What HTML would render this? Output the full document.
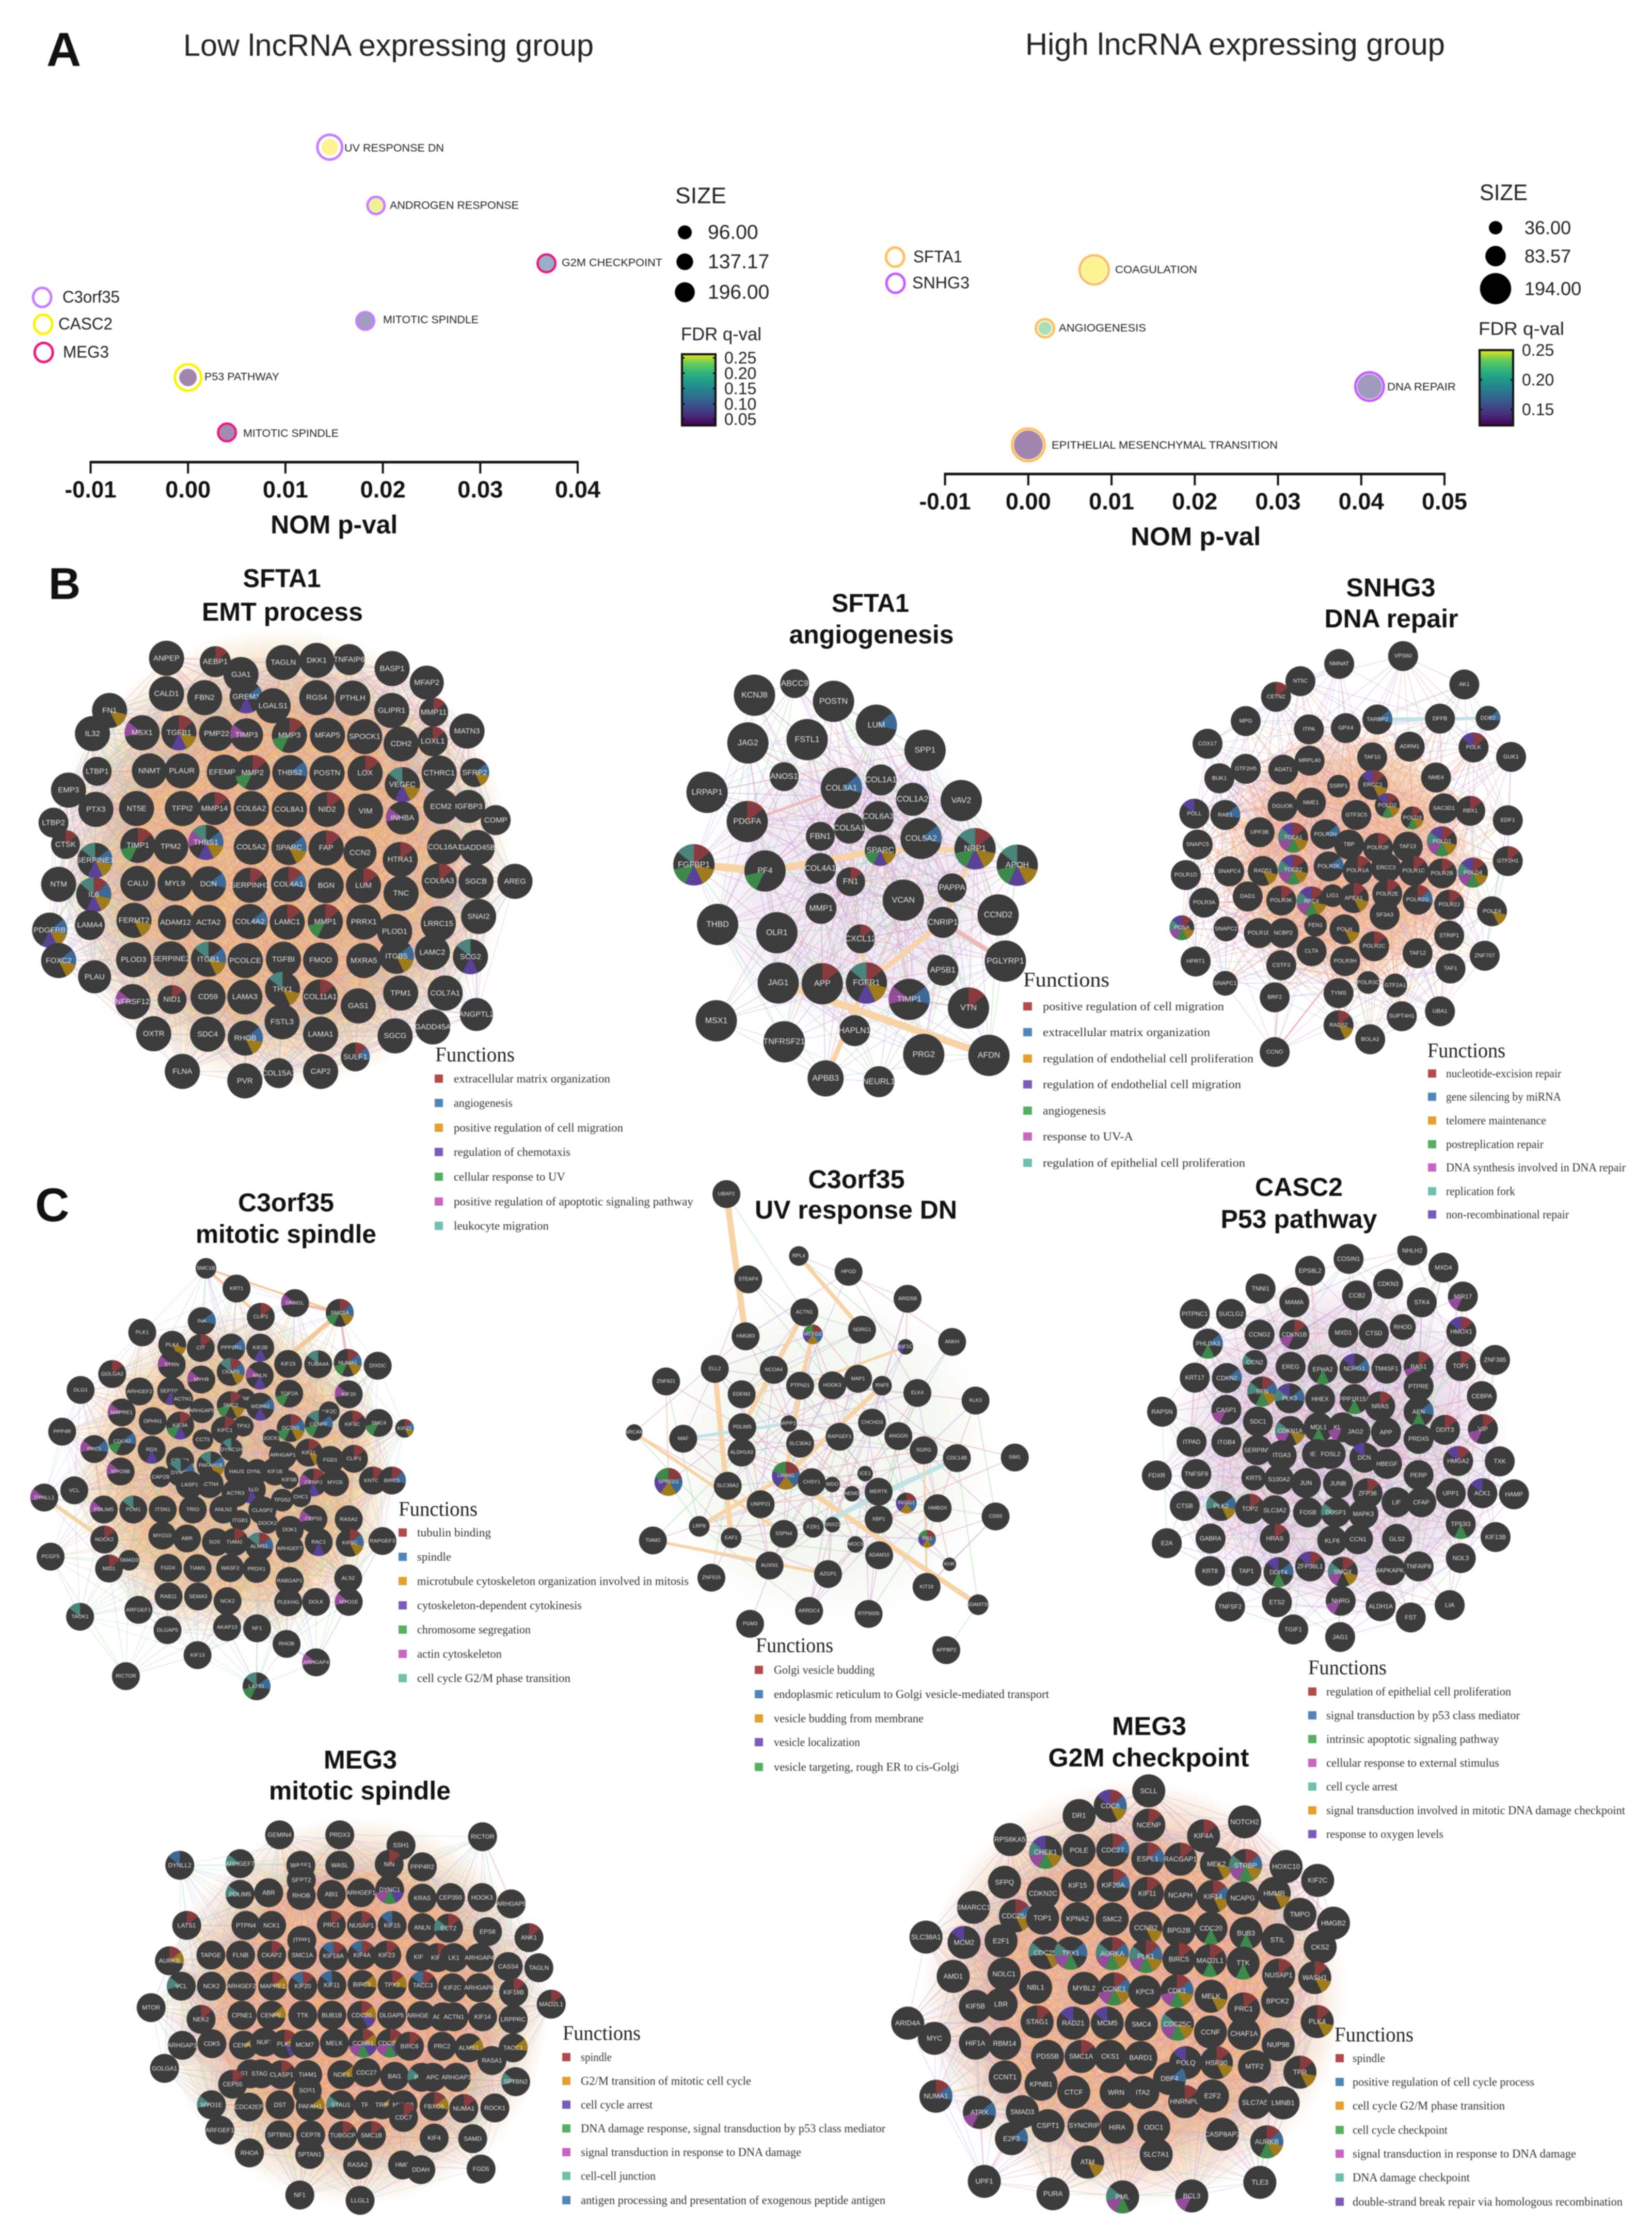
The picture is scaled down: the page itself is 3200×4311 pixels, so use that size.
<!DOCTYPE html>
<html lang="en"><head><meta charset="utf-8"><title>lncRNA GSEA and GeneMANIA networks</title>
<style>
html,body{margin:0;padding:0;background:#fff}
svg{display:block;filter:blur(1px)}
text{dominant-baseline:central}
.s{font-family:"Liberation Sans",sans-serif;fill:#222}
.b{font-family:"Liberation Sans",sans-serif;font-weight:700;fill:#111}
.f{font-family:"Liberation Serif",serif;fill:#333;font-size:23px}
.h{font-family:"Liberation Serif",serif;fill:#222;font-size:40px}
</style></head><body>
<svg id="fig" xmlns="http://www.w3.org/2000/svg" width="3200" height="4311" viewBox="0 0 3200 4311">
<defs id="figDefs">
<linearGradient id="viridis" x1="0" y1="1" x2="0" y2="0"><stop offset="0" stop-color="#440154"/><stop offset=".13" stop-color="#482878"/><stop offset=".25" stop-color="#3e4989"/><stop offset=".38" stop-color="#31688e"/><stop offset=".5" stop-color="#26828e"/><stop offset=".63" stop-color="#1f9e89"/><stop offset=".75" stop-color="#35b779"/><stop offset=".88" stop-color="#6ece58"/><stop offset="1" stop-color="#e8e419"/></linearGradient>
<pattern id="hatch" width="5" height="5" patternUnits="userSpaceOnUse" patternTransform="rotate(45)"><rect width="5" height="5" fill="#000" fill-opacity="0"/><rect width="1.4" height="5" fill="#000" fill-opacity=".18"/></pattern>
</defs>
<rect width="3200" height="4311" fill="#fff"/>

<text class="b" x="90" y="96" font-size="93">A</text>
<text class="b" x="94" y="1131" font-size="86">B</text>
<text class="b" x="68" y="2334" font-size="92">C</text>

<text class="s" x="355" y="88" font-size="59" textLength="795" lengthAdjust="spacingAndGlyphs">Low lncRNA expressing group</text>
<text class="s" x="1986" y="86" font-size="59" textLength="813" lengthAdjust="spacingAndGlyphs">High lncRNA expressing group</text>

<g id="edgesLayer"></g>
<g id="nodesLayer"></g>
<g id="chartLayer"></g>

<g>
<text class="b" x="546" y="1120" font-size="50" text-anchor="middle" textLength="151" lengthAdjust="spacingAndGlyphs">SFTA1</text>
<text class="b" x="547" y="1185" font-size="50" text-anchor="middle" textLength="312" lengthAdjust="spacingAndGlyphs">EMT process</text>
<text class="b" x="1686" y="1168" font-size="50" text-anchor="middle" textLength="150" lengthAdjust="spacingAndGlyphs">SFTA1</text>
<text class="b" x="1688" y="1229" font-size="50" text-anchor="middle" textLength="319" lengthAdjust="spacingAndGlyphs">angiogenesis</text>
<text class="b" x="2694" y="1138" font-size="50" text-anchor="middle" textLength="173" lengthAdjust="spacingAndGlyphs">SNHG3</text>
<text class="b" x="2695" y="1198" font-size="50" text-anchor="middle" textLength="259" lengthAdjust="spacingAndGlyphs">DNA repair</text>
<text class="b" x="554" y="2329" font-size="50" text-anchor="middle" textLength="186" lengthAdjust="spacingAndGlyphs">C3orf35</text>
<text class="b" x="554" y="2390" font-size="50" text-anchor="middle" textLength="350" lengthAdjust="spacingAndGlyphs">mitotic spindle</text>
<text class="b" x="1659" y="2284" font-size="50" text-anchor="middle" textLength="187" lengthAdjust="spacingAndGlyphs">C3orf35</text>
<text class="b" x="1658" y="2343" font-size="50" text-anchor="middle" textLength="392" lengthAdjust="spacingAndGlyphs">UV response DN</text>
<text class="b" x="2516" y="2299" font-size="50" text-anchor="middle" textLength="170" lengthAdjust="spacingAndGlyphs">CASC2</text>
<text class="b" x="2516" y="2361" font-size="50" text-anchor="middle" textLength="303" lengthAdjust="spacingAndGlyphs">P53 pathway</text>
<text class="b" x="698" y="3408" font-size="50" text-anchor="middle" textLength="142" lengthAdjust="spacingAndGlyphs">MEG3</text>
<text class="b" x="697" y="3468" font-size="50" text-anchor="middle" textLength="352" lengthAdjust="spacingAndGlyphs">mitotic spindle</text>
<text class="b" x="2226" y="3343" font-size="50" text-anchor="middle" textLength="144" lengthAdjust="spacingAndGlyphs">MEG3</text>
<text class="b" x="2225" y="3404" font-size="50" text-anchor="middle" textLength="389" lengthAdjust="spacingAndGlyphs">G2M checkpoint</text>
</g>

<g>
<text class="h" x="843" y="2042" textLength="154" lengthAdjust="spacingAndGlyphs">Functions</text>
<rect x="842" y="2081" width="16" height="16" fill="#b24a4a"/><text class="f" x="879" y="2089" textLength="303" lengthAdjust="spacingAndGlyphs">extracellular matrix organization</text>
<rect x="842" y="2128" width="16" height="16" fill="#4f86b8"/><text class="f" x="879" y="2136" textLength="114" lengthAdjust="spacingAndGlyphs">angiogenesis</text>
<rect x="842" y="2176" width="16" height="16" fill="#e3a02f"/><text class="f" x="879" y="2184" textLength="328" lengthAdjust="spacingAndGlyphs">positive regulation of cell migration</text>
<rect x="842" y="2223" width="16" height="16" fill="#7a5bb5"/><text class="f" x="879" y="2231" textLength="226" lengthAdjust="spacingAndGlyphs">regulation of chemotaxis</text>
<rect x="842" y="2271" width="16" height="16" fill="#56b060"/><text class="f" x="879" y="2279" textLength="216" lengthAdjust="spacingAndGlyphs">cellular response to UV</text>
<rect x="842" y="2319" width="16" height="16" fill="#c765c0"/><text class="f" x="879" y="2327" textLength="464" lengthAdjust="spacingAndGlyphs">positive regulation of apoptotic signaling pathway</text>
<rect x="842" y="2366" width="16" height="16" fill="#6fbfae"/><text class="f" x="879" y="2374" textLength="184" lengthAdjust="spacingAndGlyphs">leukocyte migration</text>
</g>
<g>
<text class="h" x="1982" y="1897" textLength="167" lengthAdjust="spacingAndGlyphs">Functions</text>
<rect x="1982" y="1941" width="17" height="16" fill="#b24a4a"/><text class="f" x="2020" y="1949" textLength="351" lengthAdjust="spacingAndGlyphs">positive regulation of cell migration</text>
<rect x="1982" y="1991" width="17" height="16" fill="#4f86b8"/><text class="f" x="2020" y="1999" textLength="324" lengthAdjust="spacingAndGlyphs">extracellular matrix organization</text>
<rect x="1982" y="2042" width="17" height="16" fill="#e3a02f"/><text class="f" x="2020" y="2050" textLength="408" lengthAdjust="spacingAndGlyphs">regulation of endothelial cell proliferation</text>
<rect x="1982" y="2092" width="17" height="16" fill="#7a5bb5"/><text class="f" x="2020" y="2100" textLength="384" lengthAdjust="spacingAndGlyphs">regulation of endothelial cell migration</text>
<rect x="1982" y="2143" width="17" height="16" fill="#56b060"/><text class="f" x="2020" y="2151" textLength="122" lengthAdjust="spacingAndGlyphs">angiogenesis</text>
<rect x="1982" y="2193" width="17" height="16" fill="#c765c0"/><text class="f" x="2020" y="2201" textLength="175" lengthAdjust="spacingAndGlyphs">response to UV-A</text>
<rect x="1982" y="2244" width="17" height="16" fill="#6fbfae"/><text class="f" x="2020" y="2252" textLength="392" lengthAdjust="spacingAndGlyphs">regulation of epithelial cell proliferation</text>
</g>
<g>
<text class="h" x="2765" y="2034" textLength="151" lengthAdjust="spacingAndGlyphs">Functions</text>
<rect x="2766" y="2071" width="16" height="16" fill="#b24a4a"/><text class="f" x="2801" y="2079" textLength="223" lengthAdjust="spacingAndGlyphs">nucleotide-excision repair</text>
<rect x="2766" y="2116" width="16" height="16" fill="#4f86b8"/><text class="f" x="2801" y="2124" textLength="223" lengthAdjust="spacingAndGlyphs">gene silencing by miRNA</text>
<rect x="2766" y="2162" width="16" height="16" fill="#e3a02f"/><text class="f" x="2801" y="2170" textLength="194" lengthAdjust="spacingAndGlyphs">telomere maintenance</text>
<rect x="2766" y="2208" width="16" height="16" fill="#56b060"/><text class="f" x="2801" y="2216" textLength="189" lengthAdjust="spacingAndGlyphs">postreplication repair</text>
<rect x="2766" y="2253" width="16" height="16" fill="#c765c0"/><text class="f" x="2801" y="2261" textLength="348" lengthAdjust="spacingAndGlyphs">DNA synthesis involved in DNA repair</text>
<rect x="2766" y="2299" width="16" height="16" fill="#6fbfae"/><text class="f" x="2801" y="2307" textLength="134" lengthAdjust="spacingAndGlyphs">replication fork</text>
<rect x="2766" y="2344" width="16" height="16" fill="#7a5bb5"/><text class="f" x="2801" y="2352" textLength="238" lengthAdjust="spacingAndGlyphs">non-recombinational repair</text>
</g>
<g>
<text class="h" x="772" y="2922" textLength="153" lengthAdjust="spacingAndGlyphs">Functions</text>
<rect x="772" y="2960" width="16" height="16" fill="#b24a4a"/><text class="f" x="808" y="2968" textLength="143" lengthAdjust="spacingAndGlyphs">tubulin binding</text>
<rect x="772" y="3007" width="16" height="16" fill="#4f86b8"/><text class="f" x="808" y="3015" textLength="66" lengthAdjust="spacingAndGlyphs">spindle</text>
<rect x="772" y="3054" width="16" height="16" fill="#e3a02f"/><text class="f" x="808" y="3062" textLength="526" lengthAdjust="spacingAndGlyphs">microtubule cytoskeleton organization involved in mitosis</text>
<rect x="772" y="3101" width="16" height="16" fill="#7a5bb5"/><text class="f" x="808" y="3109" textLength="319" lengthAdjust="spacingAndGlyphs">cytoskeleton-dependent cytokinesis</text>
<rect x="772" y="3148" width="16" height="16" fill="#56b060"/><text class="f" x="808" y="3156" textLength="220" lengthAdjust="spacingAndGlyphs">chromosome segregation</text>
<rect x="772" y="3195" width="16" height="16" fill="#c765c0"/><text class="f" x="808" y="3203" textLength="164" lengthAdjust="spacingAndGlyphs">actin cytoskeleton</text>
<rect x="772" y="3242" width="16" height="16" fill="#6fbfae"/><text class="f" x="808" y="3250" textLength="297" lengthAdjust="spacingAndGlyphs">cell cycle G2/M phase transition</text>
</g>
<g>
<text class="h" x="1464" y="3186" textLength="150" lengthAdjust="spacingAndGlyphs">Functions</text>
<rect x="1462" y="3226" width="16" height="16" fill="#b24a4a"/><text class="f" x="1499" y="3234" textLength="195" lengthAdjust="spacingAndGlyphs">Golgi vesicle budding</text>
<rect x="1462" y="3273" width="16" height="16" fill="#4f86b8"/><text class="f" x="1499" y="3281" textLength="533" lengthAdjust="spacingAndGlyphs">endoplasmic reticulum to Golgi vesicle-mediated transport</text>
<rect x="1462" y="3320" width="16" height="16" fill="#e3a02f"/><text class="f" x="1499" y="3328" textLength="290" lengthAdjust="spacingAndGlyphs">vesicle budding from membrane</text>
<rect x="1462" y="3366" width="16" height="16" fill="#7a5bb5"/><text class="f" x="1499" y="3374" textLength="167" lengthAdjust="spacingAndGlyphs">vesicle localization</text>
<rect x="1462" y="3414" width="16" height="16" fill="#56b060"/><text class="f" x="1499" y="3422" textLength="359" lengthAdjust="spacingAndGlyphs">vesicle targeting, rough ER to cis-Golgi</text>
</g>
<g>
<text class="h" x="2534" y="3229" textLength="152" lengthAdjust="spacingAndGlyphs">Functions</text>
<rect x="2534" y="3268" width="16" height="16" fill="#b24a4a"/><text class="f" x="2569" y="3276" textLength="358" lengthAdjust="spacingAndGlyphs">regulation of epithelial cell proliferation</text>
<rect x="2534" y="3314" width="16" height="16" fill="#4f86b8"/><text class="f" x="2569" y="3322" textLength="375" lengthAdjust="spacingAndGlyphs">signal transduction by p53 class mediator</text>
<rect x="2534" y="3360" width="16" height="16" fill="#56b060"/><text class="f" x="2569" y="3368" textLength="335" lengthAdjust="spacingAndGlyphs">intrinsic apoptotic signaling pathway</text>
<rect x="2534" y="3406" width="16" height="16" fill="#c765c0"/><text class="f" x="2569" y="3414" textLength="335" lengthAdjust="spacingAndGlyphs">cellular response to external stimulus</text>
<rect x="2534" y="3452" width="16" height="16" fill="#6fbfae"/><text class="f" x="2569" y="3460" textLength="138" lengthAdjust="spacingAndGlyphs">cell cycle arrest</text>
<rect x="2534" y="3498" width="16" height="16" fill="#e3a02f"/><text class="f" x="2569" y="3506" textLength="579" lengthAdjust="spacingAndGlyphs">signal transduction involved in mitotic DNA damage checkpoint</text>
<rect x="2534" y="3544" width="16" height="16" fill="#7a5bb5"/><text class="f" x="2569" y="3552" textLength="227" lengthAdjust="spacingAndGlyphs">response to oxygen levels</text>
</g>
<g>
<text class="h" x="1090" y="3937" textLength="151" lengthAdjust="spacingAndGlyphs">Functions</text>
<rect x="1089" y="3976" width="16" height="16" fill="#b24a4a"/><text class="f" x="1125" y="3984" textLength="60" lengthAdjust="spacingAndGlyphs">spindle</text>
<rect x="1089" y="4022" width="16" height="16" fill="#e3a02f"/><text class="f" x="1125" y="4030" textLength="330" lengthAdjust="spacingAndGlyphs">G2/M transition of mitotic cell cycle</text>
<rect x="1089" y="4068" width="16" height="16" fill="#7a5bb5"/><text class="f" x="1125" y="4076" textLength="139" lengthAdjust="spacingAndGlyphs">cell cycle arrest</text>
<rect x="1089" y="4114" width="16" height="16" fill="#56b060"/><text class="f" x="1125" y="4122" textLength="590" lengthAdjust="spacingAndGlyphs">DNA damage response, signal transduction by p53 class mediator</text>
<rect x="1089" y="4160" width="16" height="16" fill="#c765c0"/><text class="f" x="1125" y="4168" textLength="427" lengthAdjust="spacingAndGlyphs">signal transduction in response to DNA damage</text>
<rect x="1089" y="4206" width="16" height="16" fill="#6fbfae"/><text class="f" x="1125" y="4214" textLength="145" lengthAdjust="spacingAndGlyphs">cell-cell junction</text>
<rect x="1089" y="4253" width="16" height="16" fill="#4f86b8"/><text class="f" x="1125" y="4261" textLength="590" lengthAdjust="spacingAndGlyphs">antigen processing and presentation of exogenous peptide antigen</text>
</g>
<g>
<text class="h" x="2585" y="3940" textLength="153" lengthAdjust="spacingAndGlyphs">Functions</text>
<rect x="2587" y="3978" width="16" height="16" fill="#b24a4a"/><text class="f" x="2620" y="3986" textLength="63" lengthAdjust="spacingAndGlyphs">spindle</text>
<rect x="2587" y="4024" width="16" height="16" fill="#4f86b8"/><text class="f" x="2620" y="4032" textLength="352" lengthAdjust="spacingAndGlyphs">positive regulation of cell cycle process</text>
<rect x="2587" y="4070" width="16" height="16" fill="#e3a02f"/><text class="f" x="2620" y="4078" textLength="295" lengthAdjust="spacingAndGlyphs">cell cycle G2/M phase transition</text>
<rect x="2587" y="4117" width="16" height="16" fill="#56b060"/><text class="f" x="2620" y="4125" textLength="184" lengthAdjust="spacingAndGlyphs">cell cycle checkpoint</text>
<rect x="2587" y="4163" width="16" height="16" fill="#c765c0"/><text class="f" x="2620" y="4171" textLength="433" lengthAdjust="spacingAndGlyphs">signal transduction in response to DNA damage</text>
<rect x="2587" y="4209" width="16" height="16" fill="#6fbfae"/><text class="f" x="2620" y="4217" textLength="227" lengthAdjust="spacingAndGlyphs">DNA damage checkpoint</text>
<rect x="2587" y="4256" width="16" height="16" fill="#7a5bb5"/><text class="f" x="2620" y="4264" textLength="523" lengthAdjust="spacingAndGlyphs">double-strand break repair via homologous recombination</text>
</g>
</svg>
<script>
/* ---------- GSEA bubble chart data ---------- */
const lowSets = ["UV RESPONSE DN","ANDROGEN RESPONSE","G2M CHECKPOINT","MITOTIC SPINDLE","P53 PATHWAY","MITOTIC SPINDLE"];
const lowPval = [0.01455,0.0193,0.0368,0.0182,0,0.004];
const lowRank = [0,1.022,2.036,3.045,4.036,5];
const lowSize = [134,96,118,118,152,118];
const lowFdr = [0.25,0.245,0.12,0.09,0.056,0.065];
const lowGene = ["C3orf35","C3orf35","MEG3","C3orf35","CASC2","MEG3"];
const lowTicks = [-0.01,0,0.01,0.02,0.03,0.04];
const lowSizeLegend = [96,137.17,196];
const lowFdrTicks = [0.25,0.2,0.15,0.1,0.05];
const highSets = ["COAGULATION","ANGIOGENESIS","DNA REPAIR","EPITHELIAL MESENCHYMAL TRANSITION"];
const highPval = [0.00792,0.002,0.041,0];
const highRank = [0,1,2,3];
const highSize = [122,36,122,166];
const highFdr = [0.25,0.226,0.143,0.124];
const highGene = ["SFTA1","SFTA1","SNHG3","SFTA1"];
const highTicks = [-0.01,0,0.01,0.02,0.03,0.04,0.05];
const highSizeLegend = [36,83.57,194];
const highFdrTicks = [0.25,0.2,0.15];

/* ---------- network nodes: NAME x y slots radius (crop-layout units) ---------- */
const nodesEmt = "ANPEP 389 235,AEBP1 503 243 0 30,GJA1 563 273,TAGLN 662 245,DKK1 740 240,TNFAIP6 816 238 - 30,BASP1 916 259,MFAP2 997 292 - 33,CALD1 389 318,FBN2 478 327,GREM1 575 325 13 32,LGALS1 638 346,RGS4 740 327,PTHLH 824 328,GLIPR1 915 357,MMP11 1013 361 0 28,FN1 256 357 2,IL32 216 411,MSX1 332 409 5,TGFB1 418 409 023,PMP22 506 411,TIMP3 576 414 5 32,MMP3 676 415 04,MFAP5 765 415,SPOCK1 852 418,CDH2 937 435,LOXL1 1011 429 0 29,MATN3 1091 405,LTBP1 227 499 - 28,NNMT 349 498,PLAUR 425 498,EFEMP2 524 501,MMP2 590 502 04,THBS2 677 502 1,POSTN 764 503,LOX 853 503 0,VEGFC 940 530 236,CTHRC1 1026 503,SFRP2 1109 502 12 28,EMP3 160 543,PTX3 224 588,NT5E 319 586,TFPI2 426 586,MMP14 501 586 0 32,COL6A2 587 586,COL8A1 676 588,NID2 764 588 0,VIM 854 592,INHBA 940 608 5 32,ECM2 1030 581,IGFBP3 1095 581 - 32,COMP 1158 613 - 29,LTBP2 125 619 - 29,CTSK 153 670 0 28,TIMP1 322 672 04,TPM2 399 675,THBS1 481 665 12356,COL5A2 587 676,SPARC 675 677 12,FAP 762 678 0,CCN2 841 689 - 32,HTRA1 935 705 0,COL16A1 1039 676,GADD45B 1115 677,AREG 1203 756,SERPINE1 222 707 1236,COL6A3 1026 755 0,SGCB 1112 756,NTM 137 763,IL6 219 787 01236,CALU 322 761,MYL9 409 761,DCN 487 762 1,SERPINH1 584 765 0,COL4A1 674 763 01,BGN 762 766,LUM 849 766 0,TNC 937 784,SNAI2 1118 838,PDGFRB 116 870 123,LAMA4 210 858 - 29,FERMT2 313 847 2,ADAM12 410 852,ACTA2 487 852,COL4A2 584 850 1,LAMC1 671 851 0,MMP1 760 850 04,PRRX1 850 851,PLOD1 922 873,LRRC15 1024 855,FOXC2 137 941 12,PLOD3 312 939,SERPINE2 399 937,ITGB1 487 938 126,PCOLCE 573 941,TGFBI 662 938,FMOD 749 940,MXRA5 850 941,ITGB5 926 931 12,LAMC2 1010 922,SCG2 1099 932 36,PLAU 221 979 - 32,THY1 660 1008 26,COL11A1 748 1026 0,TNFRSF12A 310 1037 5,NID1 402 1032 0 28,CD59 486 1026,LAMA3 572 1026,GAS1 837 1047,TPM1 936 1017,COL7A1 1040 1017,ANGPTL2 1113 1067 - 32,FSTL3 659 1084,OXTR 359 1112,SDC4 485 1113,RHOB 573 1122 12,LAMA1 749 1113,SGCG 923 1117,GADD45A 1011 1096,SULF1 830 1166 01 28,FLNA 426 1200,COL15A1 651 1204 - 29,CAP2 749 1200,PVR 572 1222";

const nodesAngio = "KCNJ8 205 309,ABCC9 266 281 - 28,POSTN 325 324,LUM 390 382 1,FSTL1 285 417,JAG2 195 425,SPP1 464 443,LRPAP1 133 545,ANOS1 250 507 - 28,COL3A1 337 535 1,COL1A1 397 515 - 30,COL1A2 445 562 - 32,VAV2 519 565,PDGFA 194 616 0,COL6A3 393 604 - 30,COL5A1 349 632 - 30,FBN1 305 652 - 28,COL5A2 458 657 1,SPARC 396 686 234 30,NRP1 540 682 02346,APOH 604 722 2346,FGFBP1 113 721 02346,PF4 221 736 4,COL4A1 305 730 - 30,FN1 351 762 0 28,MMP1 306 827 - 30,VCAN 431 807,PAPPA 505 777 - 28,CCND2 575 843,THBD 149 866,OLR1 239 886,CNRIP1 491 861 - 30,CXCL12 366 901 0 28,PGLYRP1 586 955,JAG1 241 1008,APP 308 1010 0,FGFR1 375 1008 0236,AP5B1 491 977 - 30,TIMP1 440 1048 15,VTN 530 1069 0,MSX1 147 1100,TNFRSF21 250 1151,HAPLN1 357 1124 - 30,PRG2 462 1182,AFDN 561 1184,APBB3 313 1240 - 35,NEURL1 394 1248 - 30";

const nodesDna = "VPS60 1190 214,NMNAT 1093 233,AK1 1283 283,NT5C 1034 275,CETN2 997 313 0,MPG 951 372,ITPA 1047 392,GPX4 1103 389,TARBP2 1151 368 1,DFFB 1246 366,DDB2 1319 365 1 24,ADRM1 1200 434,POLK 1297 436 03,COX17 893 427,TAF10 1143 460,GUK1 1354 459,GTF2H5 951 488,ADAT1 1008 490,MRPL40 1048 468,BUK1 911 511,NME4 1240 509,SSRP1 1092 530 - 22,ERCC1 1144 527 023,POLD2 1166 577 0234 24,DGUOK 1007 579,NME1 1050 570,POLL 873 597 3,RAE1 920 600 1,GTF3C5 1119 600,POLD3 1204 607 024 22,SAC3D1 1252 584,RBX1 1292 590 0,EDF1 1349 613,UPF3B 972 642,TCEA1 1023 655 023456,POLR2H 1072 647 1,SNAPC5 878 672,TBP 1108 672,POLR2F 1152 680 0,TAF13 1197 677,POLD1 1249 664 023456,GTF2H1 1349 712 0,POLR1D 860 746,SNAPC4 926 737,RAD51 977 736 2,TCEB2 1023 733 023456,POLR2K 1077 725 1,POLR1A 1121 735 0,ERCC3 1164 728,POLR1C 1206 736 0,POLR2B 1249 742 0,POLD4 1296 740 023456,POLR3A 888 813,DAD1 954 798,POLR3K 1005 808 0,RFC4 1051 810 023456,LIG1 1083 796 - 22,APEX1 1115 802 02,POLR2E 1166 792 0,POLR2G 1212 806 01,POLR2J 1260 818 0,POLE4 1325 834 2,SF3A3 1162 843,PCNA 854 874 023456 24,SNAPC2 921 877 - 24,POLR1B 971 887,NCBP2 1008 887,FEN1 1057 868 - 22,POLH 1101 878 2,STRIP1 1260 893,CLTA 1051 931,POLR2C 1146 919 0,TAF12 1212 936,ZNF707 1314 942,HPRT1 875 956,CSTF3 1005 965,POLR3H 1102 955,TAF1 1262 973,SNAPC1 920 1009 - 24,BRF2 995 1043,POLR3C 1137 1007 - 22,GTF2A1 1178 1014 - 23,TYMS 1092 1033,SUPT4H1 1188 1089,UBA1 1246 1077,RAD52 1092 1111 02,BOLA2 1140 1145,CCNO 995 1176";

const nodesSpindleC = "SMC1B 391 294 - 20,KRT1 449 350,DNM1L 560 390 5,CLIP2 495 428 0,SMC1A 645 417 0124,INA 383 440 1,PLK1 270 471,PLK4 327 505 2,CIT 381 514 0,PPP2R1 439 513 1,KIF2B 494 513 3,STRN 326 560 5,KIF23 547 558,TUBA4A 604 559 6,NUMA1 660 555 0124,DIXDC 717 563,GOLGA2 213 586 0,CKAP5 438 580 0126,ANLN 493 590 35,MYH9 382 601 5,ARHGEF2 265 634,DLG1 153 630,SEPTIN2 325 633 3,TOP2A 549 640 4,KIF20 662 642 5,ACTN1 347 655 - 20,CENPE 465 654 - 20,SMC2 438 672 024,WDR62 494 676 13,KIF2C 625 690 - 20,MAPRE1 231 692 5,OPHN1 290 716,KIF3A 342 728 034,ARHGAP5 383 687 - 24,DCTN1 552 735 0124,CENPF 605 725 146,KIF3C 669 725 0,SMC4 719 721 4,KIF22 768 736 012 18,PPP4R 118 745,KIFC1 427 741 0,TPX2 462 730 - 20,CCT5 385 767 - 20,DOCK1 515 763 - 17,CDC42 232 772 14,PRC1 179 793 15,RDX 288 795 3,DYNC1H 439 795 6 22,KIF11 586 803 02,FGD1 627 823,CLIP1 672 820 0,ARHGAP1 537 810,CENPA 342 825 2,MYO9B 229 855 5,DYNC1I 343 858 126,PAFAH1B 400 838 126,HAUS1 452 855,DYNLT1 488 855 - 24,CAPZB 305 870 - 20,KIF1B 522 855,MYO5 636 885,CENPJ 595 885 035,KIF5B 549 878 - 18,KNTC1 708 880 0,BIRC5 744 880 01,VCL 141 907,DYNLL1 84 927 5,ACTN4 398 890,LASP1 360 892,ALLD 478 905 35,ACTR3 447 915,PCM1 253 960 6,TPD52 536 934 - 22,CHC1 571 925 - 20,PDLIM5 197 960 5,ITSN1 309 960,TRIO 366 960,ANLN2 424 960,CLASP2 498 962,ITGB1 456 990 - 20,DOCK2 508 998 - 20,DOK1 550 1016,CEP55 595 986 5,RASA2 662 987,NOCK2 198 1043 0,MYO10 308 1032,ABR 355 1040,SOS1 410 1050,TIAM2 445 1050 0,ALMS1 492 1062 016,ARHGEF7 550 1068,RAC1 605 1050 3,KIF5C 664 1052 012,RAPGEF3 726 1047,PCGF5 96 1090,MID1 207 1123 0,SMAD3 245 1100 - 20,FGD4 319 1121,TIAM1 375 1122,WASF2 437 1122,PRDX1 487 1124,RABGAP1 550 1157,ALS2 661 1150,RAB11 320 1200,SEMA3 376 1200,NCK2 432 1213,PLEKHG 547 1216,DOLK 600 1215,MYO1E 662 1215 5,TAOK1 152 1256 6,ARFGEF1 263 1237,DLGAP5 318 1293,AKAP13 431 1285,NF1 488 1288,RHOB 544 1331,KIF13 375 1362,ARHGAP4 600 1382 5,RICTOR 239 1420,LATS1 487 1448 146";

const nodesUv = "UBAP2 445 98,RPL4 720 286 - 19,HPGD 909 334,STEAP4 528 357,ACTN1 741 457,ARID5B 1133 416,HMGB3 518 530,MCFD2 773 524 01234 19,NDRG1 960 510,KIF1C 1125 562 3 15,ANKH 1302 547,ELL2 401 629,NCOA4 625 632,ZNF821 216 667,PTPN21 725 680,HOOK3 847 679,MAP1 945 659,RNF5 1036 680 - 19,ELK4 1170 702,KLK3 1391 725,EDEM2 503 706,PDLIM5 505 806,ARPP19 682 795 - 16,SLC30A2 725 856,RAPGEF1 875 835,CHCHD3 998 792,ANGGN 1098 833,SGRG 1194 876,CDC14B 1320 900,SIM1 1540 898,NRCAM 95 822 - 16,MAF 281 841,ALDH1A3 503 883,SPRED1 225 972 01234,SLC39A2 450 984,LMAN1 671 953 01234,CHSY1 769 973,WDO 847 980 - 15,ICE1 972 947 - 15,NEMO 922 1008 - 15,MERTK 1023 1002,INSIG1 1128 1036 0123 20,HMBOX 1247 1052,CD93 1467 1077,UNPP21 575 1040,LRP8 342 1107 - 20,EAF1 463 1142 - 20,SSPN4 663 1130,FZR1 775 1110 - 20,SNX21 848 1102 - 15,XBP1 1023 1086,RB1 1207 1145 01234 17,TIAM2 166 1150,DMOCS1 935 1162 - 16,ADAM10 1025 1195,KHK 1292 1222 - 13,AUXN1 609 1226,AZGP1 831 1252,ZNF615 388 1263,KIT19 1205 1291,ADAMTS9 1401 1345 - 20,ARRDC4 759 1364,RTP5005 985 1373,PGM3 535 1403,APPBP2 1280 1483";

const nodesP53 = "NHLH2 1113 245,COSIN1 992 268,MXD4 1172 292,EPS8L2 919 301,CDKN3 1067 337,TNNI1 825 350,MAMA 889 388,CCB2 1008 369,STK4 1131 388,MIR17 1209 372 5,PITPNC1 700 420,SUCLG2 769 420,CCNG2 823 477,CDKN1B 889 477 05,MXD1 982 472,CTSD 1040 473,RHOD 1095 456 - 25,HMOX1 1206 469 03,PHLDA3 725 502 14,CCN2 814 554 6 24,RAS1 1125 565 045,TOP1 1205 564 0,ZNF385 1270 547,EREG 882 566,EPHA2 943 573 4,NDRG1 1003 571 13,TM4SF1 1064 571,KRT17 700 596,CDKN2 761 597 1,PTPRE 1125 620,CEBPA 1245 647,SFN 828 634 01246,PLK3 880 653 136,HHEX 938 655,PPP1R15A 1003 655 4,NRAS 1052 675 0,CASP1 760 685 5,SDC1 820 717,RAPSN 638 690,AEN 1125 690 14,CDKN1A 881 743 256,MDL1 935 733 4,KLF10 981 733 5,JAG2 1005 745,APP 1063 747,ITPAD 694 773,ITGB4 760 774,PRDX5 1125 765,DDIT3 1175 740 0,VIP 1247 738 05,SERPINB 819 796,ITGA3 865 810,IER3 932 807,FOSL2 958 807,DCN 1022 817 3,HBEGF 1065 834,HMGA2 1200 826 03,TXK 1279 827,FDXR 628 866,TNFSF9 703 862,KRT5 812 873 - 24,S100A2 860 877,JUN 911 887,JUNB 972 888,PERP 1125 865,ZFP36 1028 915 0,CTSB 681 950,PLK2 750 950 126,TOP2 805 958 0,SLC3A2 852 962,FOSB 915 968,DUSP1 968 968 6,MAPK3 1020 972,LIF 1083 940,CFAP 1130 940,UPP1 1186 915,ACK1 1246 915 3,HAMP 1306 918,TP53I3 1205 1000 4,KIF13B 1271 1036,E2A 647 1053,GABRA 730 1040,HRAS 852 1040 0,KLF6 961 1046,CCN1 1010 1042,GLS2 1084 1041,NOL3 1205 1094,KRT8 729 1130,TAP1 798 1130,DDIT4 859 1133 134,ZFP36L1 919 1117 03,SMOX 981 1132 0256,MAPKAPK3 1072 1128,TNFAIP8 1125 1117,TNFSF2 767 1228,ETS2 856 1216,NHRG 977 1212 5,ALDH1A 1053 1227,FST 1110 1258,LIA 1184 1224,TGIF1 887 1291,JAG1 976 1312";

const nodesSpindleM = "GEMIN4 357 332,PRDX3 479 332,SSH1 603 365,RICTOR 768 338,DYNLL2 155 428 1,ARHGEF7 277 423 6,WASF1 400 428,WASL 479 428,NIN 579 425 0,PPP4R2 646 433,SEPT2 401 475,PDLIM5 277 520 6,ABR 335 515,RHOB 401 524,ABI1 462 520,ARHGEF1 522 515,DYNC1 580 505 345,KRAS 646 532,CEP350 703 530,HOOK3 767 530,ARHGAP5 826 550,LATS1 169 618 0,PTPN4 289 618,NCK1 341 618,PRC1 462 617 0,NUSAP1 523 618 0,KIF15 585 618 1,ANLN 646 625,ECT2 699 627 06,EPS8 778 638,ANK1 862 657 0,ITPR1 402 665,AURKB 134 730 02,TAPGE 218 712,FLNB 278 712,CKAP2 341 712 0,SMC1A 403 712,KIF18A 466 715 01,KIF4A 524 712 01,KIF23 574 712 0,KIF2 642 718,KIF3 677 720 0,LK1 710 720,ARHGAP4 762 720,CASS4 820 748,TAGLN 882 752,VCL 158 810 6,NCK2 219 810,ARHGEF2 280 810,MAPRE1 343 810 02,KIF20 404 810 01,KIF11 463 807 1,BIRC5 524 805 2,TPX2 585 806 02,TACC3 647 808 01,KIF2C 707 815,ARHGAP8 761 815,KIF18B 831 830 0,MAD2L1 907 867 0,MTOR 97 878,NEK2 198 915 0,CPNE1 281 902,CENPE 340 902 2,TTK 404 902,BUB1B 463 902,CDC20 523 902 023,DLGAP5 584 902,ARHGEF9 644 903,ACTN4 688 907,ACTN1 710 907,KIF14 768 907,LRPPRC 830 915,ARHGAP1 160 997,CDK5 220 992,CENPF 284 997 2,NUF2 327 987,PLK1 367 993 023,MCM7 408 995,MELK 468 990,CCNB1 526 990 02345,CDC25B 581 990 02345,BIRC6 620 1000 0,PRC2 686 1000,ALMS1 740 1005 2,TACC1 830 1005 2,RASA1 787 1045,GOLGA1 124 1070,STAG1 298 1087,STAG2 320 1087,CLASP1 361 1090 0,TIAM1 414 1090,NDE1 483 1090 2,CDC27 533 1083,BAI1 590 1095,PLK2 645 1098 6,APC 667 1098,ARHGAP3 715 1098,SPTBN2 835 1112 6,CEP55 262 1120 0,SOS1 413 1140,MYO1E 219 1185 6,CDC42EP 295 1192,DST 358 1185,PAFAH1 419 1190 2,STAU1 481 1185 6,TRIO 537 1185,TRIP 565 1185 2,MYH10 607 1185,CDC7 608 1225 0,FBXO5 670 1190 02,NUMA1 730 1197 0,ROCK1 793 1195,ARFGEF1 236 1265,SPTBN1 357 1280,CEP78 420 1280,TUBGCP 485 1282 0,SMC1B 543 1282 0,KIF4 670 1290,SAMD 748 1292,RHOA 296 1337,SPTAN1 418 1342,RASA2 515 1375,HMG 606 1375,DDAH 643 1390,FGD5 765 1388,NF1 398 1470,LLGL1 520 1487";

const nodesG2m = "SCLL 549 193,CDC6 471 241 0123,DR1 408 271,NOTCH2 743 291,NCENP 549 301 0,KIF4A 660 335 0,RPS6KA5 268 347,CHEK1 340 387 23456,POLE 408 381,CDC27 476 380 01,ESPL1 547 408 01,RACGAP1 613 409 0,MEK2 686 424 2,STRBP 745 429 012456,HOXC10 827 432,KIF2C 891 476,SFPQ 257 482,CDKN2C 335 517,KIF15 405 492,KIF20A 477 491 01,KIF11 546 517 0,NCAPH 613 523,KIF14 679 527 012,NCAPG 739 532,HMMR 803 517 2,TMPO 855 583,SMARCC1 194 561,CDC25A 279 588 012,TOP1 334 595,KPNA2 405 597,SMC2 475 598,CCNB2 543 626 2,BPG2B 610 634,CDC20 675 627 4,BUB3 746 643 4,HMGB2 923 611,SLC38A1 98 655,MCM2 175 672 3,E2F1 250 667,CDC25 339 705 26,TPX1 391 706 1456,AURKA 475 707 012456,PLK1 543 716 012456,BIRC5 610 725 0,MAD2L1 673 729 04,TTK 740 737 4,STIL 810 664,CKS2 896 687,AMD1 153 779,NOLC1 256 772,NBL1 320 814,MYBL2 418 817,CCNE1 479 819 01245,KPC3 541 828,CDK1 606 825 01245,MELK 675 842 2,NUSAP1 812 775 0,WASH1 885 783 02,KIF5B 198 874,LBR 250 867,PRC1 741 882 0,BPCK2 810 857,PLK4 890 922 02,ARID4A 61 927,MYC 115 975,STAG1 323 923 0,RAD21 396 927 3,MCM5 465 927 3,SMC4 534 931,CDC25C 607 930 2456,CCNF 674 955,CHAF1A 742 960,HIF1A 198 990,RBM14 257 991,NUP98 811 995,PDS5B 344 1032,SMC1A 412 1032 0,CKS1 471 1032,BARD1 533 1036,POLQ 624 1052 3,HSP90 686 1052 02,MTF2 763 1064,TPR 855 1082 02,CCNT1 258 1097,KPNB1 331 1120,NUMA1 118 1158 01,CTCF 397 1145,WRN 483 1146,ITA2 537 1146,DBF4 591 1102 1,HNRNPU 622 1175 0,E2F2 678 1157,SLC7A5 764 1178,LMNB1 821 1179,ATRX 206 1209 15,SMAD3 293 1207,CSPT1 345 1251,SYNCRIP 418 1251,HIRA 485 1256,ODC1 559 1256,E2F3 271 1292 1,CASP8AP2 698 1278,SLC7A1 564 1342,AURKB 788 1302 0124,ATM 425 1366 2,UPF1 216 1427,TLE3 774 1430,PURA 355 1466,PML 496 1476 456,BCL3 636 1473 5";

/* thick interaction edges: from, to, width, colour */
const thickAngio = [["FGFBP1","PF4",15,"#f7d3a6"],["PF4","SPARC",13,"#f7d3a6"],["SPARC","NRP1",10,"#f7d3a6"],["JAG1","AFDN",14,"#f7d3a6"],["FGFR1","APBB3",10,"#f7d3a6"],["FGFR1","CNRIP1",10,"#f7d3a6"],["CNRIP1","NRP1",8,"#f7d3a6"],["CNRIP1","PGLYRP1",9,"#efb8b8"],["PDGFA","COL3A1",5,"#efb8b8"],["CXCL12","FGFR1",7,"#f7d3a6"]];
const thickUv = [["UBAP2","HMGB3",12,"#f7d3a6"],["RPL4","NDRG1",8,"#f7d3a6"],["ACTN1","PDLIM5",9,"#f7d3a6"],["MCFD2","PTPN21",8,"#f7d3a6"],["PTPN21","LMAN1",8,"#f7d3a6"],["KIF1C","PTPN21",5,"#f7d3a6"],["RNF5","LMAN1",9,"#f7d3a6"],["LMAN1","LRP8",8,"#f7d3a6"],["ELL2","EAF1",10,"#f7d3a6"],["NRCAM","SSPN4",6,"#f7d3a6"],["LMAN1","ADAMTS9",10,"#f7d3a6"],["TIAM2","AZGP1",6,"#f7d3a6"],["MAF","ARPP19",6,"#bfe3e6"],["CDC14B","FZR1",9,"#bfe3e6"],["SGRG","KIT19",3,"#f7d3a6"]];
const thickSpindleC = [["SMC1A","SMC2",9,"#f4c99a"],["SMC1B","SMC1A",4,"#f4c99a"],["SMC1B","CLIP2",5,"#f4c99a"],["DYNLL1","NOCK2",8,"#f4d4a8"],["DNM1L","SMC1A",5,"#efb8a8"],["SMC1A","NUMA1",4,"#efb8b8"]];
const thickDna = [["TARBP2","DDB2",6,"#bfe3e6"],["TARBP2","DFFB",7,"#bfe3e6"],["CCNO","POLR3H",3,"#efb8b8"]];
const noThick = [];

const colorByDigit = ["#8f3e41","#406f9d","#a8821f","#5e45a0","#41904f","#9c50a2","#4f8c84"];
const warmA = ["#f0a868","#e89090","#f2b070","#e89a80","#cda6dc","#f0b878"];
const coolA = ["#c9a0dc","#d8b4e2","#a8d8a8","#e8a6a6","#a8c8e8","#cfa6e0"];
const warmB = ["#c9a0dc","#d8a6c8","#e8a0a0","#a8d8a8","#c4b0e4"];
const coolB = ["#a8d8a8","#c9b0e0","#b4dcb4","#d4bce8","#bcd8ea"];
const warmC = ["#f0b070","#a8d8a8","#e8a090","#f2b878","#c9a0dc"];
const panels = [
 {name:"emt",data:nodesEmt,ox:0,oy:1080,sx:1.206,sy:1.206,r:34,font:15,order:"0123456",maxD:380,mod:3,keep:2,w:1.7,op:.4,warm:warmA,cool:coolA,thick:noThick,haze:"#e9c48e",hazeOp:.95,hazeR:.92},
 {name:"angiogenesis",data:nodesAngio,ox:1200,oy:1100,sx:.784,sy:1.2544,r:40,font:16,order:"0123456",maxD:430,mod:4,keep:2,w:1.7,op:.5,warm:warmB,cool:coolB,thick:thickAngio,haze:"#dcc6e2",hazeOp:.35,hazeR:.7},
 {name:"dna-repair",data:nodesDna,ox:1200,oy:1100,sx:.784,sy:1.2544,r:29,font:11,order:"0124563",maxD:300,mod:3,keep:2,w:1.5,op:.45,warm:warmA,cool:coolA,thick:thickDna,haze:"#ecb49a",hazeOp:.65,hazeR:.62},
 {name:"c3orf35-spindle",data:nodesSpindleC,ox:0,oy:2250,sx:.98,sy:1.4255,r:27,font:10.5,order:"0123456",maxD:280,mod:3,keep:2,w:1.4,op:.45,warm:warmC,cool:coolB,thick:thickSpindleC,haze:"#eec698",hazeOp:.85,hazeR:.72},
 {name:"uv-response",data:nodesUv,ox:1180,oy:2250,sx:1.96,sy:1.568,r:27,font:10,order:"01234",maxD:290,mod:4,keep:1,w:1.7,op:.6,warm:warmB,cool:coolB,thick:thickUv,haze:"#dfe6d8",hazeOp:.3,hazeR:.6},
 {name:"p53",data:nodesP53,ox:1600,oy:2250,sx:.98,sy:1.4255,r:29,font:12,order:"0124563",maxD:300,mod:3,keep:1,w:1.6,op:.5,warm:warmB,cool:coolA,thick:noThick,haze:"#dcc4dc",hazeOp:.55,hazeR:.82},
 {name:"meg3-spindle",data:nodesSpindleM,ox:200,oy:3350,sx:1.0453,sy:1.6316,r:28,font:12,order:"0234561",maxD:320,mod:3,keep:2,w:1.5,op:.42,warm:warmA,cool:coolB,thick:noThick,haze:"#ecbe98",hazeOp:.9,hazeR:.85},
 {name:"meg3-g2m",data:nodesG2m,ox:1700,oy:3350,sx:1.0453,sy:1.6316,r:32,font:13.5,order:"0124563",maxD:360,mod:3,keep:2,w:1.6,op:.42,warm:warmA,cool:coolA,thick:noThick,haze:"#edbc9a",hazeOp:.9,hazeR:.88}
];

const NS = "http://www.w3.org/2000/svg";
function svgEl(tag, attrs, parent){
  const e = document.createElementNS(NS, tag);
  for (const k in attrs) e.setAttribute(k, attrs[k]);
  if (parent) parent.appendChild(e);
  return e;
}
function wedgePath(cx, cy, r, a0, a1){
  const x0 = cx + r*Math.sin(a0), y0 = cy - r*Math.cos(a0), x1 = cx + r*Math.sin(a1), y1 = cy - r*Math.cos(a1);
  return "M"+cx+" "+cy+"L"+x0+" "+y0+"A"+r+" "+r+" 0 "+((a1-a0)>Math.PI?1:0)+" 1 "+x1+" "+y1+"Z";
}
function drawPanel(p){
  const edgeLayer = document.getElementById("edgesLayer"), nodeLayer = document.getElementById("nodesLayer");
  const nodes = p.data.split(",").map(s => {
    const t = s.trim().split(" ");
    return {n:t[0], x:p.ox + (+t[1])/p.sx, y:p.oy + (+t[2])/p.sy, slots:(t[3] && t[3] !== "-") ? t[3] : "", r:t[4] ? +t[4] : p.r};
  });
  let cx = 0, cy = 0;
  nodes.forEach(n => { cx += n.x; cy += n.y; });
  cx /= nodes.length; cy /= nodes.length;
  let R = 0;
  nodes.forEach(n => { R = Math.max(R, Math.hypot(n.x-cx, n.y-cy)); });
  const eg = svgEl("g", {}, edgeLayer);
  
  
  const grad = svgEl("radialGradient", {id:"haze-" + p.name}, document.getElementById("figDefs"));
  svgEl("stop", {offset:"0", "stop-color":p.haze, "stop-opacity":p.hazeOp}, grad);
  svgEl("stop", {offset:".68", "stop-color":p.haze, "stop-opacity":p.hazeOp}, grad);
  svgEl("stop", {offset:"1", "stop-color":p.haze, "stop-opacity":0}, grad);
  const haze = svgEl("circle", {cx:cx, cy:cy, r:R*p.hazeR, fill:"url(#haze-" + p.name + ")"}, eg);
  
  
  for (let i = 0; i < nodes.length; i++) for (let j = i+1; j < nodes.length; j++) {
    const a = nodes[i], b = nodes[j], d = Math.hypot(a.x-b.x, a.y-b.y);
    if (d > p.maxD) continue;
    if ((i*31 + j*17) % p.mod >= p.keep) continue;
    const mid = Math.hypot((a.x+b.x)/2-cx, (a.y+b.y)/2-cy);
    const pal = mid < .6*R ? p.warm : p.cool;
    const ln = svgEl("line", {x1:a.x.toFixed(1), y1:a.y.toFixed(1), x2:b.x.toFixed(1), y2:b.y.toFixed(1), stroke:pal[(i + j*3) % pal.length], "stroke-width":p.w, "stroke-opacity":p.op}, eg);
    
    
  }
  p.thick.forEach(t => {
    const a = nodes.find(n => n.n === t[0]), b = nodes.find(n => n.n === t[1]);
    if (!a || !b) return;
    const ln = svgEl("line", {x1:a.x, y1:a.y, x2:b.x, y2:b.y, stroke:t[3], "stroke-width":t[2]}, eg);
    
    
  });
  const ng = svgEl("g", {}, nodeLayer);
  
  
  const N = p.order.length;
  nodes.forEach(n => {
    const g = svgEl("g", {}, ng);
    
    
    const c = svgEl("circle", {cx:n.x, cy:n.y, r:n.r, fill:"#3f3f3f"}, g);
    
    
    for (const digit of n.slots) {
      const s = p.order.indexOf(digit);
      if (s < 0) continue;
      const w = svgEl("path", {d:wedgePath(n.x, n.y, n.r, 2*Math.PI*s/N, 2*Math.PI*(s+1)/N), fill:colorByDigit[+digit]}, g);
      
      
    }
    const h = svgEl("circle", {cx:n.x, cy:n.y, r:n.r, fill:"url(#hatch)"}, g);
    
    
    const t = svgEl("text", {x:n.x, y:n.y, "text-anchor":"middle", "font-size":p.font, "font-family":'"Liberation Sans",sans-serif', fill:"#e4e4e4"}, g);
    
    
    t.textContent = n.n;
  });
}
panels.forEach(drawPanel);

/* ---------- bubble charts ---------- */
const viridisStops = [[68,1,84],[72,40,120],[62,73,137],[49,104,142],[38,130,142],[31,158,137],[53,183,121],[110,206,88],[253,231,37]];
function viridis(t){
  t = Math.max(0, Math.min(1, t))*(viridisStops.length-1);
  const i = Math.min(Math.floor(t), viridisStops.length-2), f = t-i;
  return viridisStops[i].map((v,k) => v + (viridisStops[i+1][k]-v)*f);
}
const geneColor = {C3orf35:"#c77dff",CASC2:"#fff200",MEG3:"#f0157a",SFTA1:"#ffbf5e",SNHG3:"#c45cff"};
const lowRingGap = [8,3,2,2,8.5,2];
const highRingGap = [4,4.5,3.5,3.5];
function drawBubbleChart(c){
  const root = svgEl("g", {}, document.getElementById("chartLayer"));
  
  
  const xScale = v => c.x0 + (v - c.ticks[0])/(c.ticks[c.ticks.length-1]-c.ticks[0])*(c.x1-c.x0);
  const yScale = v => c.yTop + v*c.yStep;
  const rScale = s => c.k*Math.sqrt(s);
  const axis = svgEl("line", {x1:c.x0-2, x2:c.x1+2, y1:c.axisY, y2:c.axisY, stroke:"#111", "stroke-width":5}, root);
  
  
  c.ticks.forEach(v => {
    const tk = svgEl("line", {x1:xScale(v), x2:xScale(v), y1:c.axisY, y2:c.axisY+22, stroke:"#111", "stroke-width":4}, root);
    
    
    const lb = svgEl("text", {x:xScale(v), y:c.axisY+53, "text-anchor":"middle", "font-size":45, class:"b", textLength:v < 0 ? 100 : 88, lengthAdjust:"spacingAndGlyphs"}, root);
    
    
    lb.textContent = v.toFixed(2);
  });
  const xt = svgEl("text", {x:(c.x0+c.x1)/2 + c.titleDx, y:c.axisY+121, "text-anchor":"middle", "font-size":50, class:"b", textLength:c.titleW, lengthAdjust:"spacingAndGlyphs"}, root);
  
  
  xt.textContent = "NOM p-val";
  c.sets.forEach((name,i) => {
    const x = xScale(c.pval[i]), y = yScale(c.rank[i]), r = rScale(c.size[i]);
    const col = viridis((c.fdr[i]-c.fdrMin)/(c.fdrMax-c.fdrMin)).map(v => Math.round(v + (255-v)*.5));
    const g = svgEl("g", {}, root);
    
    
    const ring = svgEl("circle", {cx:x, cy:y, r:r + c.gap[i] , fill:"#fff", stroke:geneColor[c.gene[i]], "stroke-width":5}, g);
    
    
    const dot = svgEl("circle", {cx:x, cy:y, r:r, fill:"rgb("+col.join(",")+")"}, g);
    
    
    const lb = svgEl("text", {x:c.labelX[i], y:y + c.labelDy[i], "font-size":21, class:"s", textLength:c.labelW[i], lengthAdjust:"spacingAndGlyphs"}, g);
    
    
    lb.textContent = name;
  });
  c.legendGenes.forEach(l => {
    const rg = svgEl("ellipse", {cx:l[1], cy:l[2], rx:17.5, ry:18.5, fill:"none", stroke:geneColor[l[0]], "stroke-width":5}, root);
    
    
    const t = svgEl("text", {x:l[3], y:l[2]-1, "font-size":32, class:"s", textLength:l[4], lengthAdjust:"spacingAndGlyphs"}, root);
    
    
    t.textContent = l[0];
  });
  const st = svgEl("text", {x:c.sizeTitle[0], y:c.sizeTitle[1], "font-size":44, class:"s", textLength:c.sizeTitle[2], lengthAdjust:"spacingAndGlyphs"}, root);
  
  
  st.textContent = "SIZE";
  c.sizeLegend.forEach((v,i) => {
    const d = svgEl("circle", {cx:c.sizeDotX, cy:c.sizeY[i], r:rScale(v), fill:"#000"}, root);
    
    
    const t = svgEl("text", {x:c.sizeTextX, y:c.sizeY[i], "font-size":c.sizeFont, class:"s"}, root);
    
    
    t.textContent = v.toFixed(2);
  });
  const ft = svgEl("text", {x:c.barX, y:c.fdrTitleY, "font-size":35, class:"s", textLength:c.fdrTitleW, lengthAdjust:"spacingAndGlyphs"}, root);
  
  
  ft.textContent = "FDR q-val";
  const bar = svgEl("rect", {x:c.barX+2, y:c.barTop, width:65, height:c.barBottom-c.barTop, fill:"url(#viridis)", stroke:"#111", "stroke-width":4}, root);
  
  
  c.fdrTicks.forEach(v => {
    const y = c.tickTop + (c.fdrTicks[0]-v)/(c.fdrTicks[0]-c.fdrTicks[c.fdrTicks.length-1])*(c.tickBottom-c.tickTop);
    const t = svgEl("text", {x:c.barX+84, y:y, "font-size":32, class:"s"}, root);
    
    
    t.textContent = v.toFixed(2);
    [[c.barX+2,c.barX+7],[c.barX+62,c.barX+67]].forEach(q => {
      const k = svgEl("line", {x1:q[0], x2:q[1], y1:y, y2:y, stroke:"#111", "stroke-width":3}, root);
      
      
    });
  });
}
drawBubbleChart({name:"low-expression-chart",sets:lowSets,pval:lowPval,rank:lowRank,size:lowSize,fdr:lowFdr,gene:lowGene,ticks:lowTicks,gap:lowRingGap,
  x0:175.5,x1:1119,axisY:895,titleDx:0,titleW:246,yTop:285,yStep:110.5,k:1.38,fdrMin:.05,fdrMax:.25,
  labelX:[667,755,1088,742,396,471],labelDy:[2,0,-1,-2,-1,2],labelW:[193,250,195,185,145,185],
  legendGenes:[["C3orf35",81.6,576,121,111],["CASC2",83.7,628,113,105],["MEG3",84.7,682.6,122,89]],
  sizeTitle:[1308,379,99],sizeLegend:lowSizeLegend,sizeDotX:1326.5,sizeY:[450,507,566],sizeTextX:1371,sizeFont:39,
  barX:1319,fdrTitleY:647.5,fdrTitleW:156,barTop:686,barBottom:824,fdrTicks:lowFdrTicks,tickTop:693,tickBottom:812});
drawBubbleChart({name:"high-expression-chart",sets:highSets,pval:highPval,rank:highRank,size:highSize,fdr:highFdr,gene:highGene,ticks:highTicks,gap:highRingGap,
  x0:1830.6,x1:2798,axisY:918,titleDx:2,titleW:252,yTop:522.6,yStep:113,k:2.17,fdrMin:.12,fdrMax:.25,
  labelX:[2160,2051,2687,2037],labelDy:[0,0,1,1],labelW:[159,169,133,438],
  legendGenes:[["SFTA1",1733.7,498,1769,95],["SNHG3",1734.7,548.6,1767,111]],
  sizeTitle:[2866,373,93],sizeLegend:highSizeLegend,sizeDotX:2897,sizeY:[441,496,559],sizeTextX:2953,sizeFont:36,
  barX:2864,fdrTitleY:637,fdrTitleW:166,barTop:678,barBottom:824,fdrTicks:highFdrTicks,tickTop:678,tickBottom:793});
</script>
</body></html>
